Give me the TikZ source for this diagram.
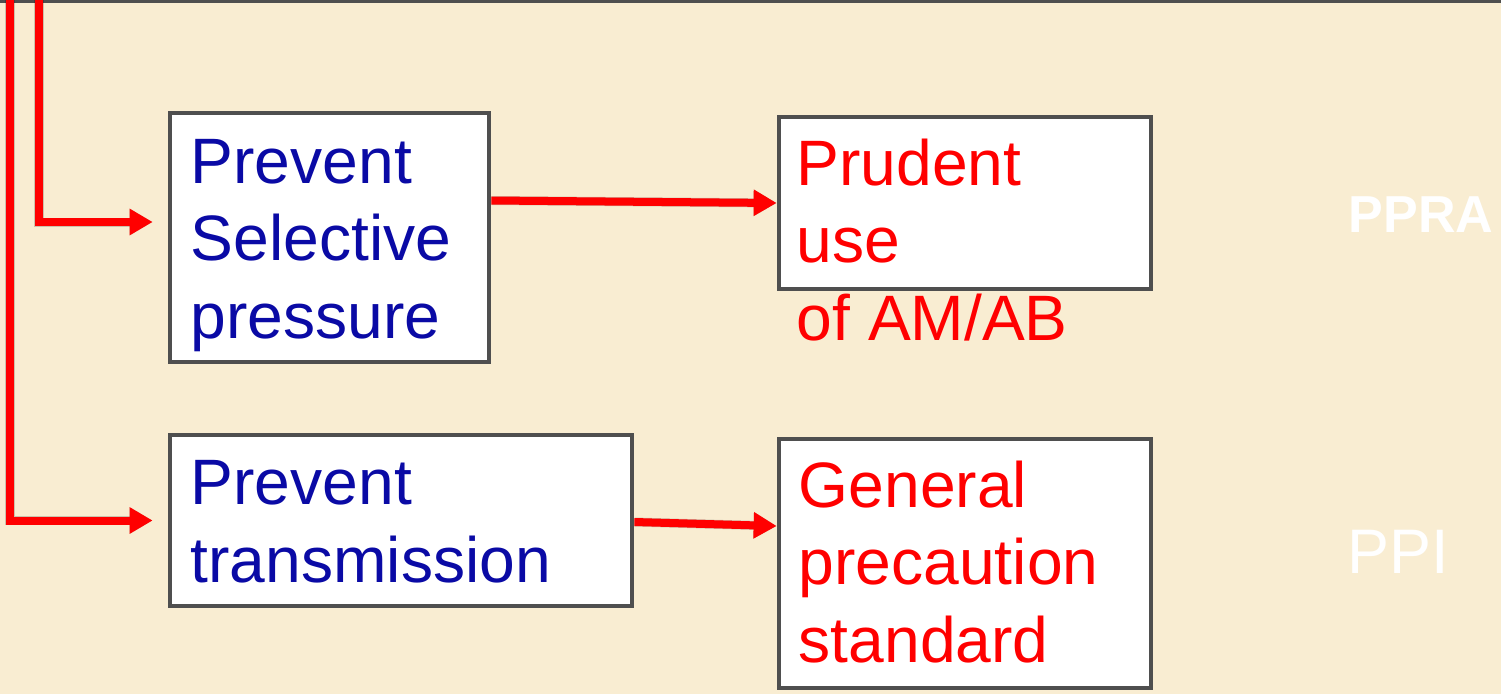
\documentclass[tikz,border=0pt]{standalone}
\usepackage{fontspec}
\setmainfont{Liberation Sans}
\usetikzlibrary{arrows.meta,calc}
\definecolor{bgcol}{HTML}{F9EDD2}
\definecolor{boxline}{HTML}{4F4F4F}
\definecolor{darkblue}{HTML}{0A0AA5}
\begin{document}
\begin{tikzpicture}[x=0.01cm,y=-0.01cm,
  box/.style={draw=boxline,line width=0.045cm,fill=white,inner sep=0pt,rectangle},
  bigtext/.style={inner sep=0pt,anchor=base west,align=left,font=\fontsize{18.25}{21.9}\selectfont},
  conn/.style={draw=red,line width=0.08cm,-{Triangle[length=0.23cm,width=0.25cm]}},
  shadow/.style={draw=black,opacity=0.18,line width=0.09cm,-{Triangle[length=0.23cm,width=0.25cm]}}
]
\useasboundingbox (0,0) rectangle (1501,694);
\fill[bgcol] (0,0) rectangle (1501,694);
\fill[boxline] (0,0) rectangle (1501,3);

% boxes
\node[box,minimum width=3.19cm,minimum height=2.49cm] (b1) at (329.5,237.5) {};
\node[box,minimum width=3.72cm,minimum height=1.72cm] (b2) at (965,203) {};
\node[box,minimum width=4.62cm,minimum height=1.71cm] (b3) at (401,520.5) {};
\node[box,minimum width=3.72cm,minimum height=2.49cm] (b4) at (965,563.5) {};

% texts (anchor = baseline of last line)
\node[bigtext,text=darkblue] (t1) at (190,338) {Prevent\\Selective\\pressure};
\node[bigtext,text=red] (t2) at (796,340) {Prudent\\use\\of AM/AB};
\node[bigtext,text=darkblue] (t3) at (190,582) {Prevent\\transmission};
\node[bigtext,text=red] (t4) at (798,662) {General\\precaution\\standard};

\node[inner sep=0pt,anchor=base west,text=white,font=\fontsize{14.8}{16}\selectfont\bfseries] (ppra) at (1348,232) {PPRA};
\node[inner sep=0pt,anchor=base west,text=white,font=\fontsize{17.9}{20}\selectfont] (ppi) at (1347,573) {PPI};

% connectors
\coordinate (top1) at (39,0);
\coordinate (top2) at (10,0);
\coordinate (e1) at ($(b1.west)+(0,-15.5)$);
\coordinate (s3) at ($(b1.east)+(0,-37)$);
\coordinate (s4) at ($(b3.east)+(0,1.5)$);
\coordinate (e4) at ($(b4.west)+(0,-37.5)$);

\begin{scope}[shift={(2,3)}]
\path[shadow,shorten >=0.15cm] (top1) |- (e1);
\path[shadow,shorten >=0.15cm] (top2) |- (b3.west);
\path[shadow] (s3) -- (b2.west);
\path[shadow] (s4) -- (e4);
\end{scope}
\path[conn,shorten >=0.15cm] (top1) |- (e1);
\path[conn,shorten >=0.15cm] (top2) |- (b3.west);
\path[conn] (s3) -- (b2.west);
\path[conn] (s4) -- (e4);
\end{tikzpicture}
\end{document}
